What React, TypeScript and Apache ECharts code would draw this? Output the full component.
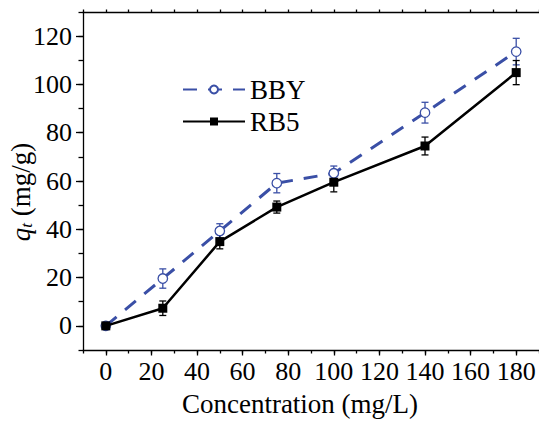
import { useEffect, useRef } from 'react';
import * as echarts from 'echarts';

const concentration = [0, 25, 50, 75, 100, 140, 180];
const bbyValues = [0, 19.6, 39.3, 59.1, 63.2, 88.3, 113.6];
const bbyErrors = [0, 4, 3, 4, 3, 4.3, 5.5];
const rb5Values = [0, 7.3, 34.9, 49.2, 59.5, 74.5, 104.9];
const rb5Errors = [0, 3, 3, 2.5, 4, 3.7, 5];
const xMajorTicks = [0, 20, 40, 60, 80, 100, 120, 140, 160, 180];
const yMajorTicks = [0, 20, 40, 60, 80, 100, 120];
const seriesNames = ['BBY', 'RB5'];
const xTitle = 'Concentration (mg/L)';

const FONT = 'Liberation Serif';
const BLUE = '#3a4fa6';
const AXIS_W = 1.3;

function errorSeries(name: string, values: number[], errors: number[], color: string, z: number) {
  return {
    type: 'custom',
    name,
    xAxisIndex: 0,
    yAxisIndex: 0,
    silent: true,
    z,
    encode: { x: 0, y: [1, 2] },
    data: concentration.map((x, i) => [x, values[i] - errors[i], values[i] + errors[i]]),
    renderItem: (_params: any, api: any) => {
      const x = api.value(0);
      const lo = api.coord([x, api.value(1)]);
      const hi = api.coord([x, api.value(2)]);
      const hw = 3.5;
      const style = { stroke: color, lineWidth: 1.3, fill: 'none' };
      if (Math.abs(lo[1] - hi[1]) < 0.5) return { type: 'group', children: [] };
      return {
        type: 'group',
        children: [
          { type: 'line', shape: { x1: lo[0], y1: lo[1], x2: hi[0], y2: hi[1] }, style },
          { type: 'line', shape: { x1: lo[0] - hw, y1: lo[1], x2: lo[0] + hw, y2: lo[1] }, style },
          { type: 'line', shape: { x1: hi[0] - hw, y1: hi[1], x2: hi[0] + hw, y2: hi[1] }, style },
        ],
      };
    },
  };
}

export default function App() {
  const ref = useRef<HTMLDivElement>(null);
  useEffect(() => {
    if (!ref.current) return;
    const chart = echarts.init(ref.current, null, { renderer: 'svg' });
    const axisLine = { show: true, onZero: false, lineStyle: { color: '#000', width: AXIS_W } };
    const hiddenLine = { show: false, onZero: false };
    const option: any = {
      animation: false,
      backgroundColor: '#fff',
      textStyle: { fontFamily: FONT },
      grid: { left: 83, top: 12, width: 457, height: 338, containLabel: false },
      legend: {
        orient: 'vertical',
        left: 177,
        top: 71,
        itemWidth: 62,
        itemHeight: 10,
        itemGap: 5,
        data: seriesNames,
        textStyle: { fontSize: 27, fontFamily: FONT, color: '#000' },
      },
      xAxis: [
        {
          type: 'value', position: 'bottom', min: -10, max: 190, interval: 10,
          axisLine,
          axisTick: { show: true, length: 5.5, customValues: xMajorTicks, lineStyle: { color: '#000', width: AXIS_W } },
          axisLabel: { customValues: xMajorTicks, fontSize: 26, fontFamily: FONT, color: '#000', margin: 8 },
          splitLine: { show: false },
        },
        {
          type: 'value', position: 'bottom', min: -10, max: 190, interval: 10,
          axisLine: hiddenLine,
          axisTick: { show: true, length: 3.5, lineStyle: { color: '#000', width: AXIS_W } },
          axisLabel: { show: false },
          splitLine: { show: false },
        },
        {
          type: 'value', position: 'top', min: -10, max: 190, interval: 10,
          axisLine,
          axisTick: { show: true, length: 2.5, lineStyle: { color: '#000', width: AXIS_W } },
          axisLabel: { show: false },
          splitLine: { show: false },
        },
      ],
      yAxis: [
        {
          type: 'value', position: 'left', min: -10, max: 130, interval: 10,
          axisLine,
          axisTick: { show: true, length: 7, customValues: yMajorTicks, lineStyle: { color: '#000', width: AXIS_W } },
          axisLabel: { customValues: yMajorTicks, fontSize: 26, fontFamily: FONT, color: '#000', margin: 11 },
          splitLine: { show: false },
        },
        {
          type: 'value', position: 'left', min: -10, max: 130, interval: 10,
          axisLine: hiddenLine,
          axisTick: { show: true, length: 4.5, lineStyle: { color: '#000', width: AXIS_W } },
          axisLabel: { show: false },
          splitLine: { show: false },
        },
      ],
      graphic: [
        {
          type: 'text',
          x: 300,
          y: 404,
          style: { text: xTitle, fontSize: 27, fontFamily: FONT, fill: '#000', align: 'center', verticalAlign: 'middle' },
        },
        {
          type: 'text',
          x: 21,
          y: 192,
          rotation: Math.PI / 2,
          style: {
            text: '{q|q}{t|t} (mg/g)',
            fontSize: 27,
            fontFamily: FONT,
            fill: '#000',
            align: 'center',
            verticalAlign: 'middle',
            rich: {
              q: { fontStyle: 'italic', fontSize: 27, fontFamily: FONT, fill: '#000' },
              t: { fontStyle: 'italic', fontSize: 17, fontFamily: FONT, fill: '#000', verticalAlign: 'bottom' },
            },
          },
        },
      ],
      series: [
        errorSeries('BBY-err', bbyValues, bbyErrors, BLUE, 1),
        errorSeries('RB5-err', rb5Values, rb5Errors, '#000', 1),
        {
          name: seriesNames[0],
          type: 'line',
          xAxisIndex: 0,
          yAxisIndex: 0,
          z: 3,
          data: concentration.map((x, i) => [x, bbyValues[i]]),
          symbol: 'circle',
          symbolSize: 9.5,
          lineStyle: { color: BLUE, width: 3, type: [14, 11] },
          itemStyle: { color: '#fff', borderColor: BLUE, borderWidth: 1.3 },
        },
        {
          name: seriesNames[1],
          type: 'line',
          xAxisIndex: 0,
          yAxisIndex: 0,
          z: 4,
          data: concentration.map((x, i) => [x, rb5Values[i]]),
          symbol: 'rect',
          symbolSize: 9,
          lineStyle: { color: '#000', width: 2.5 },
          itemStyle: { color: '#000' },
        },
      ],
    };
    chart.setOption(option);
    return () => chart.dispose();
  }, []);
  return <div ref={ref} style={{ position: 'absolute', left: 0, top: 0, width: 539, height: 423 }} />;
}
